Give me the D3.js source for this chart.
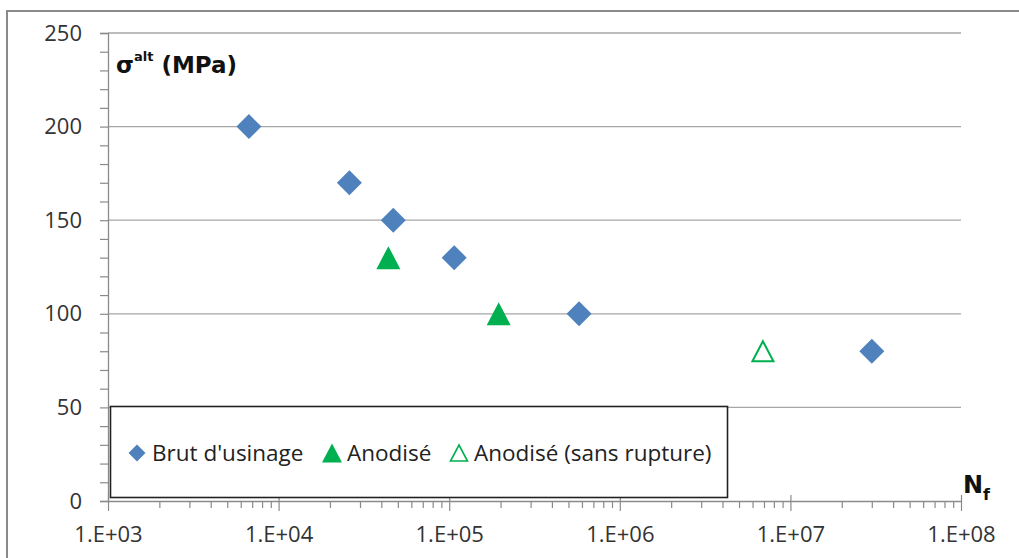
<!DOCTYPE html>
<html><head><meta charset="utf-8">
<script src="https://cdn.jsdelivr.net/npm/d3@7"></script>
<style>
html,body{margin:0;padding:0;background:#fff;}
svg{display:block;}
</style></head>
<body><svg id="chart" width="1019" height="558"></svg>
<script>
// ---- data ----
const seriesNames = ["Brut d'usinage", "Anodisé", "Anodisé (sans rupture)"];
const brutCycles = [6700, 26000, 47000, 107000, 577000, 3.0e7];
const brutStress = [200, 170, 150, 130, 100, 80];
const anodCycles = [44000, 195000];
const anodStress = [130, 100];
const sansCycles = [6.9e6];
const sansStress = [80];
const xTickValues = [1e3, 1e4, 1e5, 1e6, 1e7, 1e8];
const xTickLabels = ["1.E+03", "1.E+04", "1.E+05", "1.E+06", "1.E+07", "1.E+08"];
const yTickValues = [0, 50, 100, 150, 200, 250];

const blue = "#4F81BD", green = "#00B050";
const svg = d3.select("#chart");
const regFont = "'Open Sans', Lato, sans-serif";
const boldFont = "'DejaVu Sans', sans-serif";

// outer chart frame
svg.append("rect").attr("x", 7).attr("y", 11).attr("width", 1030).attr("height", 570)
  .attr("fill", "none").attr("stroke", "#8a8a8a").attr("stroke-width", 2);

const x = d3.scaleLog().domain([1e3, 1e8]).range([108, 961]);
const y = d3.scaleLinear().domain([0, 250]).range([501, 33]);

// gridlines
svg.append("g").selectAll("line").data(yTickValues.filter(v => v > 0)).join("line")
  .attr("x1", x(1e3)).attr("x2", x(1e8))
  .attr("y1", d => y(d)).attr("y2", d => y(d))
  .attr("stroke", "#a6a6a6").attr("stroke-width", 1.3);

// y axis
const yMinor = d3.range(0, 251, 10);
const yAxis = d3.axisLeft(y).tickValues(yMinor).tickSize(8).tickPadding(18)
  .tickFormat(d => yTickValues.includes(d) ? d : "");
const gy = svg.append("g").attr("transform", `translate(${x(1e3)},0)`).call(yAxis);
gy.select(".domain").attr("stroke", "#8a8a8a").attr("stroke-width", 1.3);
gy.selectAll(".tick line").attr("stroke", "#8a8a8a").attr("stroke-width", 1.2);
gy.selectAll(".tick text").style("font-size", "22px").style("font-family", regFont).attr("fill", "#333");

// x axis: minor ticks
const xMinor = [];
for (let e = 3; e < 8; e++) for (let m = 2; m <= 9; m++) xMinor.push(m * Math.pow(10, e));
const gxMinor = svg.append("g").attr("transform", `translate(0,${y(0)})`)
  .call(d3.axisBottom(x).tickValues(xMinor).tickSize(7).tickFormat(""));
gxMinor.select(".domain").remove();
gxMinor.selectAll(".tick line").attr("stroke", "#8a8a8a").attr("stroke-width", 1.2);

// x axis: major ticks (cross)
const gx = svg.append("g").attr("transform", `translate(0,${y(0)})`)
  .call(d3.axisBottom(x).tickValues(xTickValues).tickSize(10).tickSizeOuter(0).tickPadding(15)
    .tickFormat((d, i) => xTickLabels[i]));
gx.select(".domain").attr("stroke", "#8a8a8a").attr("stroke-width", 1.3);
gx.selectAll(".tick line").attr("y1", -6).attr("stroke", "#8a8a8a").attr("stroke-width", 1.2);
gx.selectAll(".tick text").style("font-size", "22px").style("font-family", regFont).attr("fill", "#333");

// marker shapes
function diamondPath(r) { return `M0,${-r}L${r},0L0,${r}L${-r},0Z`; }
function trianglePath(w, h) { return `M0,${-h/2}L${w/2},${h/2}L${-w/2},${h/2}Z`; }

const brut = brutCycles.map((c, i) => ({c, s: brutStress[i]}));
const anod = anodCycles.map((c, i) => ({c, s: anodStress[i]}));
const sans = sansCycles.map((c, i) => ({c, s: sansStress[i]}));

svg.append("g").selectAll("path").data(brut).join("path")
  .attr("transform", d => `translate(${x(d.c)},${y(d.s)})`)
  .attr("d", diamondPath(12.5)).attr("fill", blue);
svg.append("g").selectAll("path").data(anod).join("path")
  .attr("transform", d => `translate(${x(d.c)},${y(d.s)})`)
  .attr("d", trianglePath(24, 23)).attr("fill", green);
svg.append("g").selectAll("path").data(sans).join("path")
  .attr("transform", d => `translate(${x(d.c)},${y(d.s)})`)
  .attr("d", trianglePath(21, 20)).attr("fill", "#fff").attr("stroke", green).attr("stroke-width", 2);

// legend
const lg = svg.append("g");
lg.append("rect").attr("x", 110.5).attr("y", 406.5).attr("width", 617).attr("height", 91)
  .attr("fill", "#fff").attr("stroke", "#222").attr("stroke-width", 1.6);
const legendItems = [
  {name: seriesNames[0], mx: 137, tx: 152, kind: "diamond"},
  {name: seriesNames[1], mx: 332, tx: 347, kind: "tri"},
  {name: seriesNames[2], mx: 459, tx: 474, kind: "open"}
];
legendItems.forEach(it => {
  const g = lg.append("g").attr("transform", `translate(${it.mx},453)`);
  if (it.kind === "diamond") g.append("path").attr("d", diamondPath(8.5)).attr("fill", blue);
  else if (it.kind === "tri") g.append("path").attr("d", trianglePath(20, 19)).attr("fill", green);
  else g.append("path").attr("d", trianglePath(17, 16)).attr("fill", "#fff").attr("stroke", green).attr("stroke-width", 1.6);
  lg.append("text").attr("x", it.tx).attr("y", 460.5)
    .style("font-size", "22.5px").style("font-family", regFont).attr("fill", "#222").text(it.name);
});

// axis titles
const t = svg.append("text").attr("x", 116).attr("y", 73)
  .style("font-size", "23px").style("font-weight", "bold").style("font-family", boldFont).attr("fill", "#111");
t.append("tspan").text("σ");
t.append("tspan").attr("dy", -12).style("font-size", "13px").text("alt");
t.append("tspan").attr("dy", 12).text(" (MPa)");

const n = svg.append("text").attr("x", 963).attr("y", 493)
  .style("font-size", "24px").style("font-weight", "bold").style("font-family", boldFont).attr("fill", "#111");
n.append("tspan").text("N");
n.append("tspan").attr("dy", 7).style("font-size", "16px").text("f");
</script></body></html>
